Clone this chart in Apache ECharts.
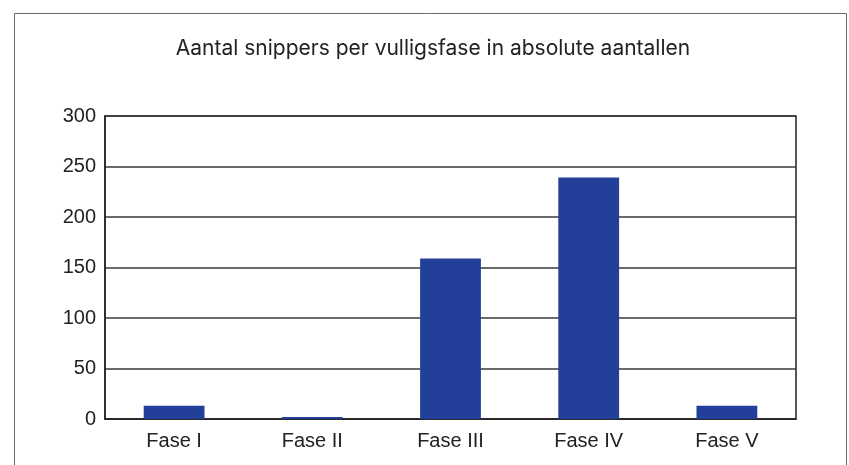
<!DOCTYPE html>
<html>
<head>
<meta charset="utf-8">
<title>Aantal snippers per vulligsfase</title>
<script src="https://cdn.jsdelivr.net/npm/echarts@6/dist/echarts.min.js"></script>
<style>
  html, body { margin: 0; padding: 0; background: #fff; }
  #chart { width: 849px; height: 465px; }
</style>
</head>
<body>
<div id="chart"></div>
<script>
// data
var categories = ['Fase I', 'Fase II', 'Fase III', 'Fase IV', 'Fase V'];
var snippers = [13, 2, 159, 239, 13];
var yTicks = [0, 50, 100, 150, 200, 250, 300];

var chart = echarts.init(document.getElementById('chart'));

var option = {
  animation: false,
  backgroundColor: '#fff',
  // outer frame
  graphic: [{
    type: 'rect',
    left: 12,
    top: 11,
    shape: { width: 832, height: 470 },
    style: { fill: 'none', stroke: '#6b6b6b', lineWidth: 1 }
  }],
  title: {
    text: 'Aantal snippers per vulligsfase in absolute aantallen',
    left: 428,
    textAlign: 'center',
    top: 33,
    textStyle: {
      fontFamily: 'Inter',
      fontSize: 21,
      fontWeight: 'normal',
      color: '#222'
    }
  },
  grid: {
    left: 105,
    right: 53,
    top: 116,
    bottom: 46,
    show: true,
    borderColor: '#222',
    borderWidth: 1.5
  },
  xAxis: {
    type: 'category',
    data: categories,
    axisTick: { show: false },
    axisLine: { lineStyle: { color: '#222', width: 1.5 } },
    axisLabel: {
      color: '#222',
      fontFamily: 'Liberation Sans',
      fontSize: 20,
      margin: 12
    }
  },
  yAxis: {
    type: 'value',
    min: yTicks[0],
    max: yTicks[yTicks.length - 1],
    interval: 50,
    axisLine: { show: true, lineStyle: { color: '#222', width: 1.5 } },
    axisTick: { show: false },
    axisLabel: {
      color: '#222',
      fontFamily: 'Liberation Sans',
      fontSize: 20,
      margin: 9
    },
    splitLine: {
      show: true,
      lineStyle: { color: '#3a3a3a', width: 1.5 }
    }
  },
  series: [{
    name: 'snippers',
    type: 'bar',
    data: snippers,
    barWidth: '44%',
    itemStyle: { color: '#22409A' }
  }]
};

chart.setOption(option);
</script>
</body>
</html>
